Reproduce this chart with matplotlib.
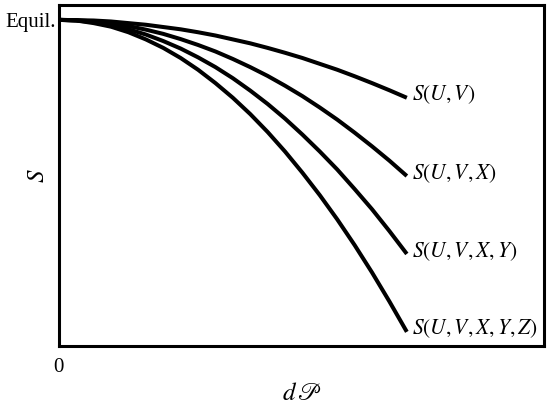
import matplotlib
matplotlib.use("Agg")
from matplotlib import pyplot as plt

plt.rcParams['mathtext.fontset'] = 'stix'
plt.rcParams['font.family'] = ['Liberation Serif', 'DejaVu Serif']

##################################################
# Data (S relative to equilibrium = 1)

dp = [0.0, 0.05, 0.1, 0.15, 0.2, 0.25, 0.3, 0.35, 0.4, 0.45, 0.5,
	0.55, 0.6, 0.65, 0.7, 0.75, 0.8, 0.85, 0.9, 0.95, 1.0]
s_uv = [1.000, 0.999, 0.998, 0.995, 0.990, 0.985, 0.978, 0.971, 0.962, 0.952, 0.940,
	0.928, 0.914, 0.899, 0.883, 0.865, 0.847, 0.827, 0.806, 0.784, 0.761]
s_uvx = [1.000, 0.999, 0.995, 0.989, 0.981, 0.970, 0.957, 0.941, 0.923, 0.903, 0.880,
	0.855, 0.828, 0.798, 0.766, 0.731, 0.694, 0.654, 0.612, 0.568, 0.521]
s_uvxy = [1.000, 0.998, 0.993, 0.984, 0.971, 0.955, 0.935, 0.912, 0.885, 0.855, 0.821,
	0.783, 0.742, 0.697, 0.648, 0.596, 0.541, 0.481, 0.419, 0.352, 0.282]
s_uvxyz = [1.000, 0.998, 0.990, 0.979, 0.962, 0.940, 0.914, 0.883, 0.847, 0.806, 0.761,
	0.711, 0.656, 0.596, 0.531, 0.462, 0.388, 0.309, 0.225, 0.136, 0.043]

series = [s_uv, s_uvx, s_uvxy, s_uvxyz]
labels = [r'$S(U,V)$', r'$S(U,V,X)$', r'$S(U,V,X,Y)$', r'$S(U,V,X,Y,Z)$']

##################################################
# Plot

fig = plt.figure(figsize=(5.5, 4.05), dpi=100)
ax = fig.add_axes([0.107, 0.146, 0.882, 0.842])

for vals, lab in zip(series, labels):
	ax.plot(dp, vals, color='black', linewidth=2.9, solid_capstyle='butt')
	# label sits just right of the curve end
	ax.annotate(lab, xy=(dp[-1], vals[-1]), xytext=(3.5, 2), textcoords='offset points',
		ha='left', va='center', fontsize=15.5)

ax.set_xlim(0, 1.394)
ax.set_ylim(0, 1.046)

for sp in ax.spines.values():
	sp.set_linewidth(2.2)

ax.set_xticks([0])
ax.set_xticklabels(['0'], fontsize=15)
ax.set_yticks([1.0])
ax.set_yticklabels(['Equil.'], fontsize=15)
ax.tick_params(axis='both', length=0)
ax.tick_params(axis='x', pad=9)
ax.tick_params(axis='y', pad=2)

ax.set_xlabel(r'$d\,\mathscr{P}$', fontsize=18, va='center')
ax.xaxis.set_label_coords(0.5, -0.141)
ax.set_ylabel(r'$S$', fontsize=18, va='center', ha='center')
ax.yaxis.set_label_coords(-0.043, 0.5)

fig.savefig('out.png', dpi=100)
